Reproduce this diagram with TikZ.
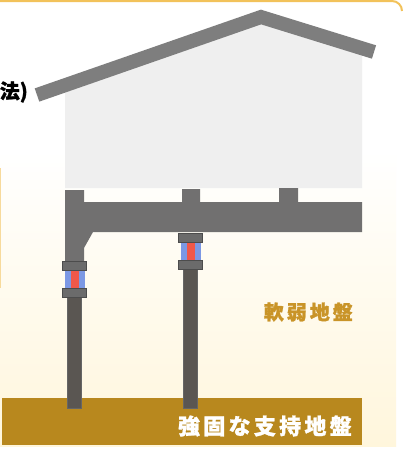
\documentclass[tikz,border=0pt]{standalone}
\usepackage{fontspec}
\newfontfamily\jp{Noto Sans CJK JP}[BoldFeatures={FakeBold=1.2}]

\definecolor{roofgray}{HTML}{7E7E7E}
\definecolor{wallgray}{HTML}{EFEFEF}
\definecolor{beamgray}{HTML}{717070}
\definecolor{pilegray}{HTML}{5A5652}
\definecolor{collargray}{HTML}{6B6B6B}
\definecolor{rubberblue}{HTML}{7C98E4}
\definecolor{rubberred}{HTML}{F0584A}
\definecolor{hardsoil}{HTML}{B8881E}
\definecolor{softtext}{HTML}{C99428}
\definecolor{softsoil}{HTML}{FFF6DC}
\definecolor{frameline}{HTML}{F2C25A}

\begin{document}
\begin{tikzpicture}[x=1pt,y=-1pt]
   \tikzset{Collar/.style={fill=collargray,draw=black!70,line width=0.6},
            Pile/.style={fill=pilegray,draw=black!60,line width=0.5},
            Label/.style={font=\jp\bfseries,inner sep=0}}
   \useasboundingbox (0,0) rectangle (406,450);
   \fill[white] (0,0) rectangle (406,450);
   \shade[top color=white,bottom color=softsoil] (0,150) rectangle (396,446);
   \draw[frameline,line width=2] (0,1) -- (392,1) arc[start angle=-90,end angle=0,radius=10];
   \draw[frameline!60,line width=1] (0.5,168) -- (0.5,288);
   % house
   \fill[wallgray] (65,90) -- (261,20) -- (362,52) -- (362,188) -- (65,188) -- cycle;
   \draw[roofgray,line width=14] (37,95) -- (261,17) -- (374,52);
   \fill[beamgray] (65,190) -- (84,190) -- (84,202) -- (182,202) -- (182,189)
      -- (200,189) -- (200,202) -- (279,202) -- (279,188) -- (298,188)
      -- (298,202) -- (362,202) -- (362,232) -- (93,232) -- (84,248)
      -- (84,262) -- (65,262) -- cycle;
   % ground
   \fill[hardsoil] (2,398) rectangle (362,445);
   % piles with isolators
   \foreach \x/\y in {74.5/261,190.5/233}{
      \draw[Pile] (\x-7,\y+36) rectangle (\x+7,408);
      \fill[rubberblue] (\x-10,\y+9) rectangle (\x+10,\y+27);
      \fill[rubberred] (\x-4,\y+9) rectangle (\x+4,\y+27);
      \draw[Collar] (\x-12,\y) rectangle (\x+12,\y+9);
      \draw[Collar] (\x-12,\y+27) rectangle (\x+12,\y+36);
   }
   \node[Label,anchor=east] (method) at (28,92) {\fontsize{20}{20}\selectfont 法)};
   \node[Label,text=softtext,anchor=east] (softlbl) at (353,312)
      {\fontsize{20}{20}\selectfont\addfontfeatures{LetterSpace=15}軟弱地盤};
   \node[Label,text=white,anchor=east] (hardlbl) at (352,426)
      {\fontsize{22}{22}\selectfont\addfontfeatures{LetterSpace=15}強固な支持地盤};
\end{tikzpicture}
\end{document}
